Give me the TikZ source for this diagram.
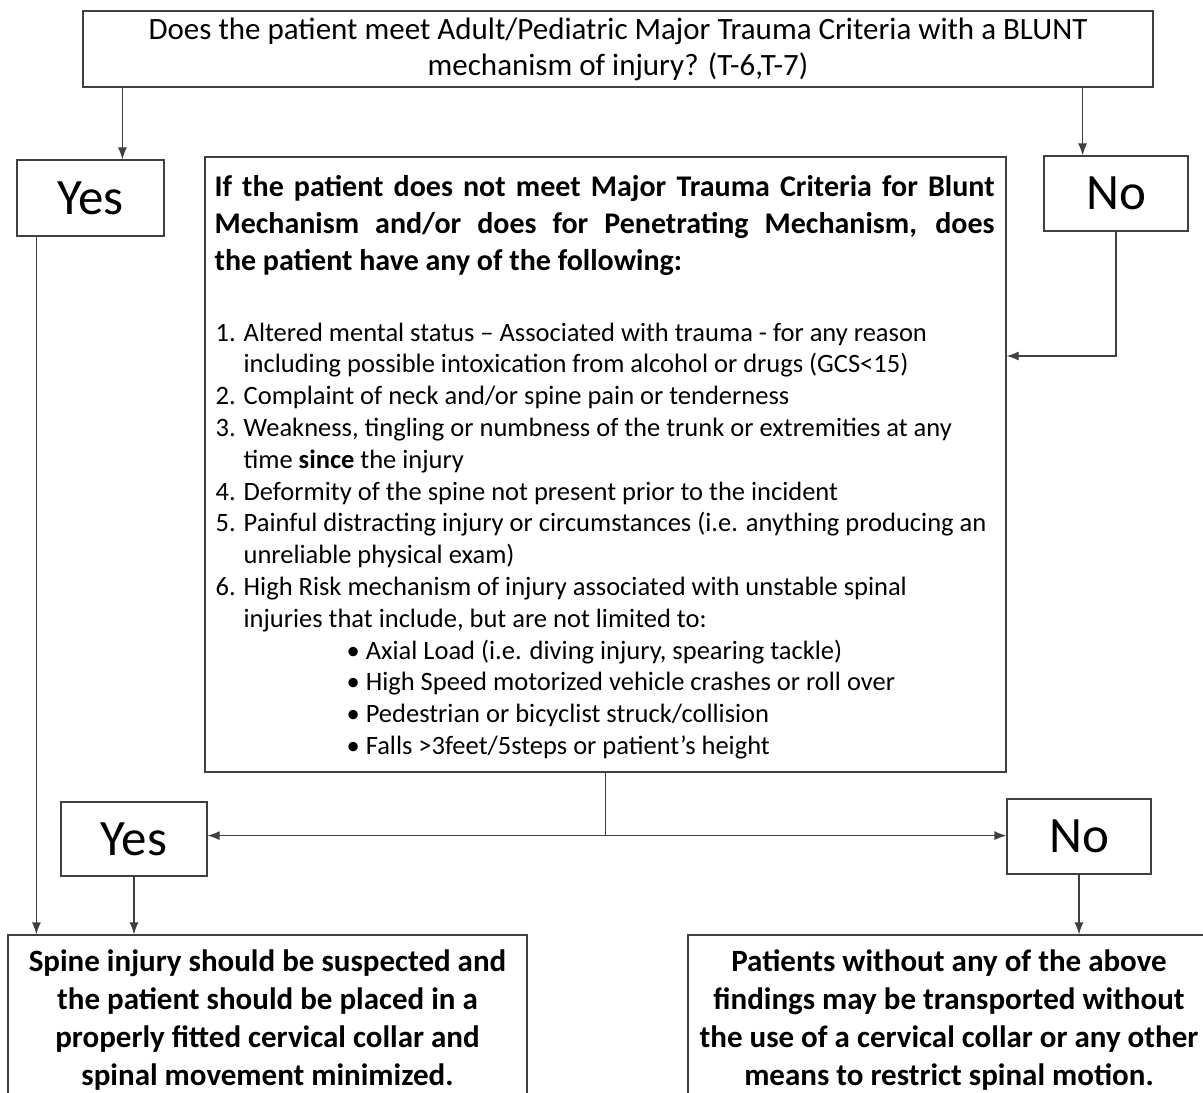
\documentclass[tikz,border=0pt]{standalone}
\usepackage{fontspec}
\setmainfont{Carlito}
\usetikzlibrary{arrows.meta,positioning}

\tikzset{
  box/.style={draw=black!75, line width=1.2pt, inner sep=0pt},
  answer/.style={box, font=\fontsize{51}{51}\selectfont},
  arr/.style={draw=black!75, line width=1.2pt, -{Latex[length=12pt,width=9pt]}},
  link/.style={draw=black!75, line width=1.2pt},
}

\begin{document}
\begin{tikzpicture}[x=1pt,y=-1pt]
    \useasboundingbox (0,0) rectangle (1203,1093);
    % first question
    \node[box, minimum width=1070, minimum height=76, align=center,
          font=\fontsize{31}{36}\selectfont] (blunt) at (618,49)
      {Does the patient meet Adult/Pediatric Major Trauma Criteria with a BLUNT\\
       mechanism of injury? (T-6,T-7)};
    \node[answer, minimum width=147, minimum height=76] (yesA) at (90.5,198) {Yes};
    \node[answer, minimum width=144, minimum height=75] (noA) at (1116,193.5) {No};
    % criteria box
    \node[box, minimum width=801, minimum height=615] (crit) at (605.5,464.5) {};
    \node[anchor=north west, inner sep=0pt, text width=780, align=justify,
          font=\bfseries\fontsize{30}{37}\selectfont] (crithead)
      at ([shift={(10,19)}]crit.north west)
      {If the patient does not meet Major Trauma Criteria for Blunt\linebreak
       Mechanism and/or does for Penetrating Mechanism, does\linebreak
       the patient have any of the following:};
    \node[anchor=north west, inner sep=0pt, align=left,
          font=\fontsize{26.5}{31.8}\selectfont] (critlist)
      at ([shift={(11,166)}]crit.north west)
      {1. Altered mental status -- Associated with trauma - for any reason\\
       \hspace*{28pt}including possible intoxication from alcohol or drugs (GCS<15)\\
       2. Complaint of neck and/or spine pain or tenderness\\
       3. Weakness, tingling or numbness of the trunk or extremities at any\\
       \hspace*{28pt}time \textbf{since} the injury\\
       4. Deformity of the spine not present prior to the incident\\
       5. Painful distracting injury or circumstances (i.e. anything producing an\\
       \hspace*{28pt}unreliable physical exam)\\
       6. High Risk mechanism of injury associated with unstable spinal\\
       \hspace*{28pt}injuries that include, but are not limited to:\\
       \hspace*{131pt}\textbullet\ Axial Load (i.e. diving injury, spearing tackle)\\
       \hspace*{131pt}\textbullet\ High Speed motorized vehicle crashes or roll over\\
       \hspace*{131pt}\textbullet\ Pedestrian or bicyclist struck/collision\\
       \hspace*{131pt}\textbullet\ Falls >3feet/5steps or patient's height};
    % second answers
    \node[answer, minimum width=146, minimum height=74] (yesB) at (134,839) {Yes};
    \node[answer, minimum width=144, minimum height=75] (noB) at (1079,836.5) {No};
    \coordinate (split) at ([yshift=-63pt]crit.south);
    % outcomes
    \node[box, minimum width=519, minimum height=170, align=center,
          font=\bfseries\fontsize{31}{38}\selectfont] (spine) at (267.5,1020)
      {Spine injury should be suspected and\\
       the patient should be placed in a\\
       properly fitted cervical collar and\\
       spinal movement minimized.};
    \node[box, minimum width=522, minimum height=170, align=center,
          font=\bfseries\fontsize{31}{38}\selectfont] (free) at (949,1020)
      {Patients without any of the above\\
       findings may be transported without\\
       the use of a cervical collar or any other\\
       means to restrict spinal motion.};
    % connectors
    \draw[arr] ([xshift=40pt]blunt.south west) -- ([xshift=40pt]blunt.south west |- yesA.north);
    \draw[arr] ([xshift=-71pt]blunt.south east) -- ([xshift=-71pt]blunt.south east |- noA.north);
    \draw[arr] (noA.south) |- ([yshift=108.5pt]crit.east);
    \draw[link] (crit.south) -- (split);
    \draw[arr] (split) -- (split -| yesB.east);
    \draw[arr] (split) -- (split -| noB.west);
    \draw[arr] ([xshift=20pt]yesA.south west) -- ([xshift=20pt]yesA.south west |- spine.north);
    \draw[arr] (yesB.south) -- (yesB.south |- spine.north);
    \draw[arr] (noB.south) -- (noB.south |- free.north);
\end{tikzpicture}
\end{document}
